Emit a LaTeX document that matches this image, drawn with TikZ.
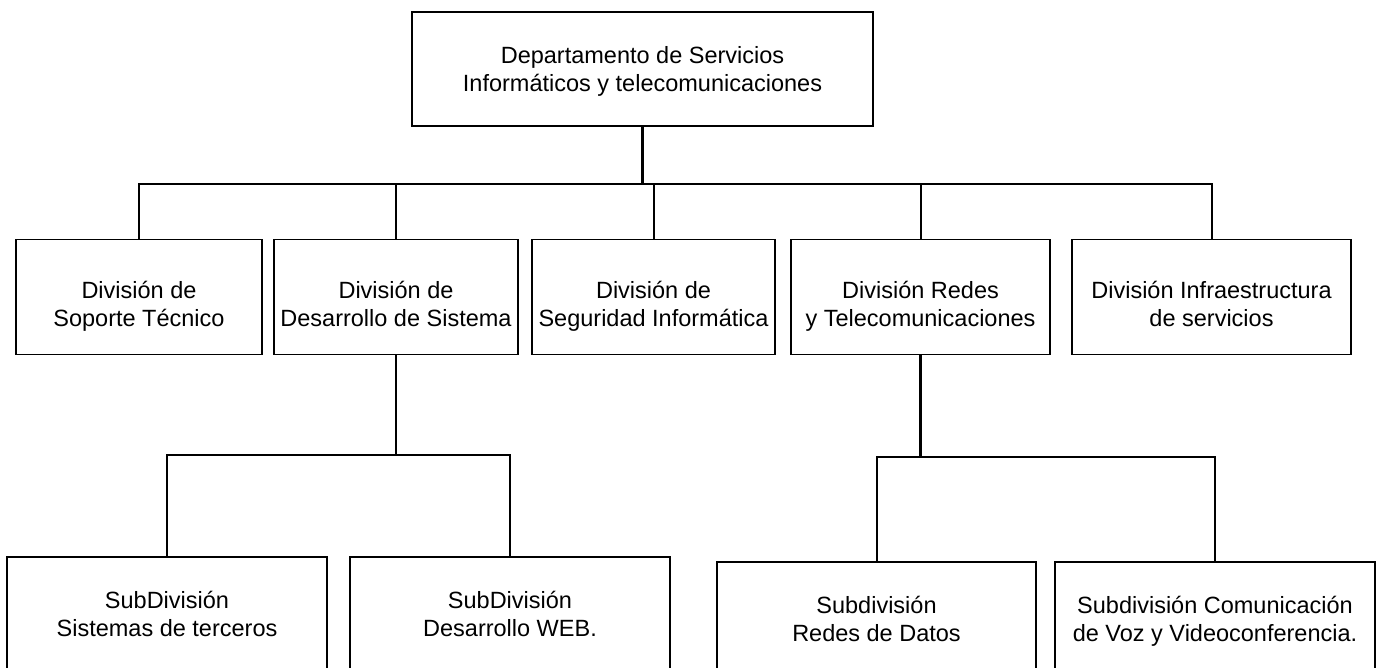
\documentclass[tikz,border=0pt]{standalone}
\usepackage{fontspec}
\setmainfont{Liberation Sans}
\begin{document}
\begin{tikzpicture}[x=1pt,y=-1pt,
  box/.style={draw, line width=1.7pt, align=center, inner sep=0pt,
    font=\fontsize{23.5}{28}\selectfont,
    execute at begin node={\rule{0pt}{#1}},
    execute at end node={\rule[-6pt]{0pt}{6pt}}},
  box/.default=50pt,
  conn/.style={line width=2pt},
  trunk/.style={line width=2.6pt}]
\path[use as bounding box, clip] (0,0) rectangle (1383,668);
\fill[white] (0,0) rectangle (1383,668);
% top
\node[box=50.6pt, minimum width=461pt, minimum height=114pt] (top) at (642.5,69)
  {Departamento de Servicios\\Informáticos y telecomunicaciones};
% level 2
\node[box=64pt, minimum width=246pt, minimum height=115pt] (b1) at (139,297)
  {División de\\Soporte Técnico};
\node[box=64pt, minimum width=244pt, minimum height=115pt] (b2) at (396,297)
  {División de\\Desarrollo de Sistema};
\node[box=64pt, minimum width=243pt, minimum height=115pt] (b3) at (653.5,297)
  {División de\\Seguridad Informática};
\node[box=64pt, minimum width=259pt, minimum height=115pt] (b4) at (920.5,297)
  {División Redes\\y Telecomunicaciones};
\node[box=64pt, minimum width=279pt, minimum height=115pt] (b5) at (1211.5,297)
  {División Infraestructura\\de servicios};
% level 3
\node[box=48pt, minimum width=320pt, minimum height=116pt] (sA) at (167,615)
  {SubDivisión\\Sistemas de terceros};
\node[box=48pt, minimum width=320pt, minimum height=116pt] (sB) at (510,615)
  {SubDivisión\\Desarrollo WEB.};
\node[box=48pt, minimum width=319pt, minimum height=116pt] (sC) at (876.5,620)
  {Subdivisión\\Redes de Datos};
\node[box=48pt, minimum width=320pt, minimum height=116pt] (sD) at (1215,620)
  {Subdivisión Comunicación\\de Voz y Videoconferencia.};
% connectors
\draw[trunk] (top.south) -- ++(0,57) coordinate (j0);
\draw[conn] (b1.north) -- (b1.north |- j0) -- (b5.north |- j0) -- (b5.north);
\draw[conn] (b2.north) -- (b2.north |- j0);
\draw[conn] (b3.north) -- (b3.north |- j0);
\draw[conn] (b4.north) -- (b4.north |- j0);
\draw[trunk] (b2.south) -- ++(0,100) coordinate (j1);
\draw[conn] (sA.north) -- (sA.north |- j1) -- (sB.north |- j1) -- (sB.north);
\draw[trunk] (b4.south) -- ++(0,102) coordinate (j2);
\draw[conn] (sC.north) -- (sC.north |- j2) -- (sD.north |- j2) -- (sD.north);
\end{tikzpicture}
\end{document}
